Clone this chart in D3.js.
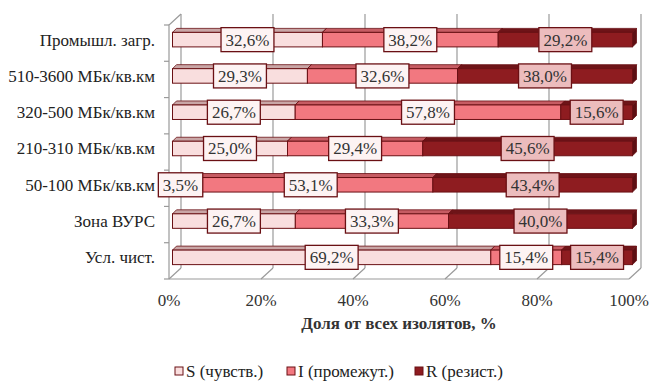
<!DOCTYPE html>
<html>
<head>
<meta charset="utf-8">
<script src="https://cdn.jsdelivr.net/npm/d3@7"></script>
<style>
  body { margin: 0; background: #fff; }
  text { font-family: "Liberation Serif", "DejaVu Serif", serif; }
</style>
</head>
<body>
<svg width="658" height="392"></svg>
<script>
var categories = ["Промышл. загр.", "510-3600 МБк/кв.км", "320-500 МБк/кв.км", "210-310 МБк/кв.км", "50-100 МБк/кв.км", "Зона ВУРС", "Усл. чист."];
var sVals = [32.6, 29.3, 26.7, 25.0, 3.5, 26.7, 69.2];
var iVals = [38.2, 32.6, 57.8, 29.4, 53.1, 33.3, 15.4];
var rVals = [29.2, 38.0, 15.6, 45.6, 43.4, 40.0, 15.4];
var seriesNames = ["S (чувств.)", "I (промежут.)", "R (резист.)"];
var xTicks = [0, 20, 40, 60, 80, 100];

var svg = d3.select('svg'),
    w = +svg.attr('width'),
    h = +svg.attr('height');

// colours: front, top, side, label fill
var pal = [
  {front: '#f9dede', top: '#c9a6a6', side: '#b89494', label: '#fdf3f3'},
  {front: '#f27880', top: '#c65c63', side: '#b0474e', label: '#fdf3f3'},
  {front: '#8e1c20', top: '#6e1418', side: '#5c0f13', label: '#ecbcbd'}
];
var edge = '#6a1014';
var serif = '"Liberation Serif", "DejaVu Serif", serif';
var fs = 17;

// front plane scales
var x = d3.scaleLinear().domain([0, 100]).range([169, 629]);
var y = d3.scaleBand().domain(categories).range([25, 279])
      .paddingInner(0.6).paddingOuter(0.3);

var depth = {dx: 12, dy: -11},   // full depth of the box
    bOff = {dx: 3.5, dy: -3.5},  // bar front offset
    bDep = {dx: 4, dy: -4};      // bar depth

var grid = svg.append('g').attr('class', 'grid');
var y0 = y.range()[0], y1 = y.range()[1];

// back wall gridlines
xTicks.forEach(function(t){
  grid.append('line')
    .attr('x1', x(t) + depth.dx).attr('x2', x(t) + depth.dx)
    .attr('y1', y0 + depth.dy).attr('y2', y1 + depth.dy)
    .attr('stroke', '#9a9a9a').attr('stroke-width', 1.2);
  // floor lines
  grid.append('line')
    .attr('x1', x(t)).attr('y1', y1)
    .attr('x2', x(t) + depth.dx).attr('y2', y1 + depth.dy)
    .attr('stroke', '#9a9a9a').attr('stroke-width', 1.2);
});

// left wall + floor edge
grid.append('path')
  .attr('d', 'M' + x(0) + ',' + y1 + 'L' + x(0) + ',' + y0 + 'L' + (x(0) + depth.dx) + ',' + (y0 + depth.dy))
  .attr('fill', 'none').attr('stroke', '#9a9a9a').attr('stroke-width', 1.2);
grid.append('line')
  .attr('x1', x(0)).attr('x2', x(100)).attr('y1', y1).attr('y2', y1)
  .attr('stroke', '#9a9a9a').attr('stroke-width', 1.2);

// category ticks
d3.range(categories.length + 1).forEach(function(k){
  var yy = y0 + k * y.step();
  grid.append('line')
    .attr('x1', x(0) - 5).attr('x2', x(0)).attr('y1', yy).attr('y2', yy)
    .attr('stroke', '#9a9a9a').attr('stroke-width', 1.2);
});

// x tick labels
svg.append('g').selectAll('text')
  .data(xTicks)
  .enter()
  .append('text')
  .attr('x', function(d){ return x(d); })
  .attr('y', 306)
  .attr('text-anchor', 'middle')
  .attr('font-family', serif)
  .attr('font-size', fs)
  .attr('fill', '#333')
  .text(function(d){ return d + '%'; });

svg.append('text')
  .attr('x', 399).attr('y', 329)
  .attr('text-anchor', 'middle')
  .attr('font-family', serif)
  .attr('font-size', fs).attr('font-weight', 'bold')
  .attr('fill', '#333')
  .text('Доля от всех изолятов, %');

// category labels
svg.append('g').selectAll('text')
  .data(categories)
  .enter()
  .append('text')
  .attr('x', 155)
  .attr('y', function(d){ return y(d) + bOff.dy + y.bandwidth() / 2; })
  .attr('dy', '0.35em')
  .attr('text-anchor', 'end')
  .attr('font-family', serif)
  .attr('font-size', fs)
  .attr('fill', '#222')
  .text(function(d){ return d; });

// stacked segments
var rows = categories.map(function(c, i){
  var vals = [sVals[i], iVals[i], rVals[i]];
  var tot = d3.sum(vals), acc = 0;
  return vals.map(function(v, k){
    var seg = {cat: c, k: k, v: v, x0: acc / tot * 100, x1: (acc + v) / tot * 100};
    acc += v;
    return seg;
  });
});

var bars = svg.append('g').attr('class', 'bars');
var bh = y.bandwidth();

rows.forEach(function(row){
  row.forEach(function(s, k){
    var xa = x(s.x0) + bOff.dx, xb = x(s.x1) + bOff.dx,
        ya = y(s.cat) + bOff.dy, yb = ya + bh;
    var g = bars.append('g');
    // top face
    g.append('path')
      .attr('d', 'M' + xa + ',' + ya + 'L' + (xa + bDep.dx) + ',' + (ya + bDep.dy) +
                 'L' + (xb + bDep.dx) + ',' + (ya + bDep.dy) + 'L' + xb + ',' + ya + 'Z')
      .attr('fill', pal[k].top).attr('stroke', edge).attr('stroke-width', 0.8);
    // right face (only last shows)
    g.append('path')
      .attr('d', 'M' + xb + ',' + ya + 'L' + (xb + bDep.dx) + ',' + (ya + bDep.dy) +
                 'L' + (xb + bDep.dx) + ',' + (yb + bDep.dy) + 'L' + xb + ',' + yb + 'Z')
      .attr('fill', pal[k].side).attr('stroke', edge).attr('stroke-width', 0.8);
    // front face
    g.append('rect')
      .attr('x', xa).attr('y', ya)
      .attr('width', xb - xa).attr('height', bh)
      .attr('fill', pal[k].front).attr('stroke', edge).attr('stroke-width', 1);
  });
});

// data labels
var labels = svg.append('g').attr('class', 'labels');
rows.forEach(function(row){
  row.forEach(function(s, k){
    var cx = (x(s.x0) + x(s.x1)) / 2 + bOff.dx,
        cy = y(s.cat) + bOff.dy + bh / 2;
    var txt = d3.format('.1f')(s.v).replace('.', ',') + '%';
    var g = labels.append('g');
    var t = g.append('text')
      .attr('x', cx).attr('y', cy).attr('dy', '0.35em')
      .attr('text-anchor', 'middle')
      .attr('font-family', serif)
      .attr('font-size', fs).attr('fill', '#333')
      .text(txt);
    var bw = t.node().getComputedTextLength() + 9;
    g.insert('rect', 'text')
      .attr('x', cx - bw / 2).attr('y', cy - 12)
      .attr('width', bw).attr('height', 24)
      .attr('fill', pal[k].label).attr('stroke', edge).attr('stroke-width', 1.3);
  });
});

// legend
var legX = [175, 287, 415];
var leg = svg.append('g').attr('class', 'legend');
seriesNames.forEach(function(n, k){
  leg.append('rect')
    .attr('x', legX[k]).attr('y', 367)
    .attr('width', 8).attr('height', 8)
    .attr('fill', pal[k].front).attr('stroke', edge).attr('stroke-width', 1);
  leg.append('text')
    .attr('x', legX[k] + 11).attr('y', 371).attr('dy', '0.35em')
    .attr('font-family', serif)
    .attr('font-size', fs).attr('fill', '#222')
    .text(n);
});
</script>
</body>
</html>
